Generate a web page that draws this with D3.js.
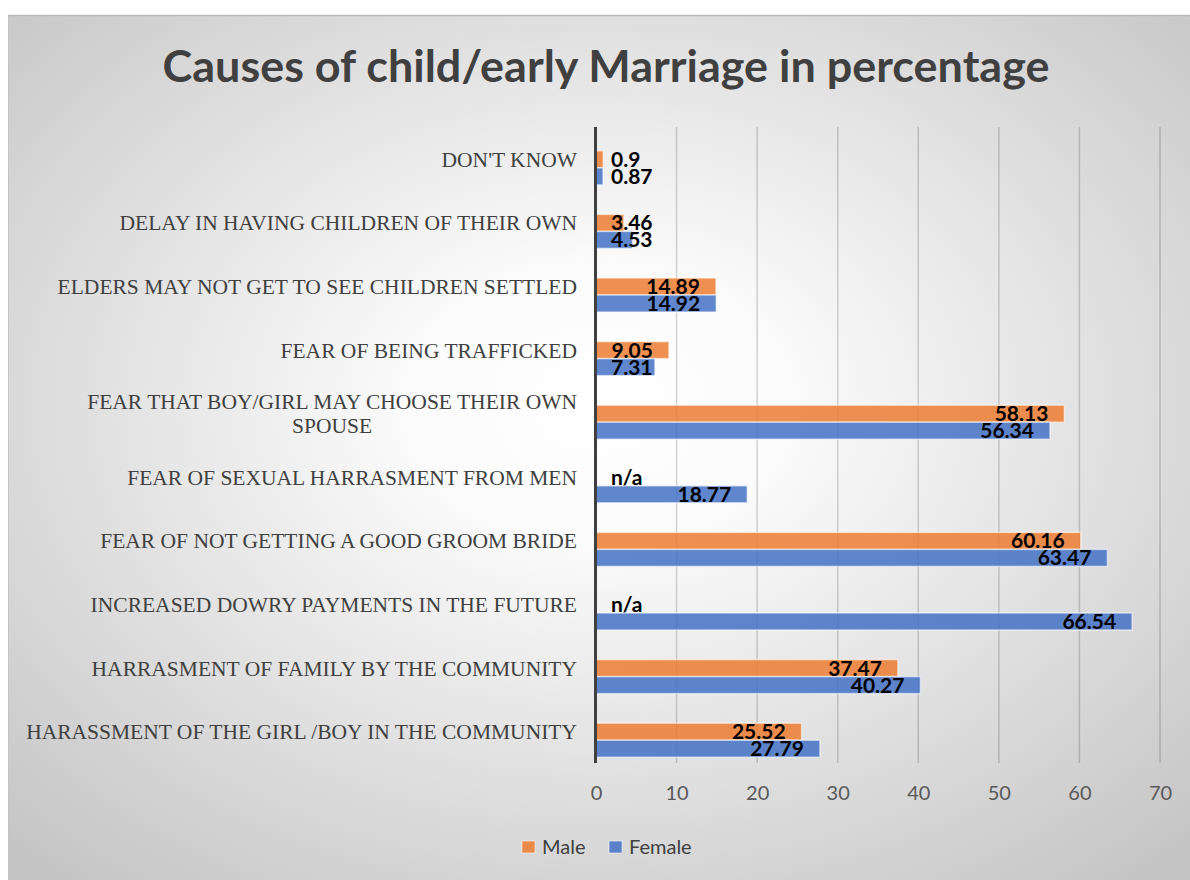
<!DOCTYPE html>
<html>
<head>
<meta charset="utf-8">
<script src="https://cdn.jsdelivr.net/npm/d3@7/dist/d3.min.js"></script>
<style>
  html, body { margin: 0; padding: 0; background: #ffffff; }
  svg { display: block; }
</style>
</head>
<body>
<svg id="chart" width="1190" height="880"></svg>
<script>
// ---- data ----
const categories = [
  "DON'T KNOW",
  "DELAY IN HAVING CHILDREN OF THEIR OWN",
  "ELDERS MAY NOT GET TO SEE CHILDREN SETTLED",
  "FEAR OF BEING TRAFFICKED",
  "FEAR THAT BOY/GIRL MAY CHOOSE THEIR OWN SPOUSE",
  "FEAR OF SEXUAL HARRASMENT FROM MEN",
  "FEAR OF NOT GETTING A GOOD GROOM BRIDE",
  "INCREASED DOWRY PAYMENTS IN THE FUTURE",
  "HARRASMENT OF FAMILY BY THE COMMUNITY",
  "HARASSMENT OF THE GIRL /BOY IN THE COMMUNITY"
];
const maleValues   = [0.9, 3.46, 14.89, 9.05, 58.13, null, 60.16, null, 37.47, 25.52];
const femaleValues = [0.87, 4.53, 14.92, 7.31, 56.34, 18.77, 63.47, 66.54, 40.27, 27.79];
const seriesNames  = ["Male", "Female"];
const seriesColors = ["#ED7D31", "#4472C4"];
const xTicks = [0, 10, 20, 30, 40, 50, 60, 70];
const titleText = "Causes of child/early Marriage in percentage";

// ---- layout ----
const svg = d3.select("#chart");
const W = 1190, H = 880;
const plot = { left: 596, right: 1160, top: 127, bottom: 763 };

// background
const defs = svg.append("defs");
const grad = defs.append("radialGradient").attr("id", "bg")
  .attr("cx", 0.5).attr("cy", 0.45).attr("r", 0.72);
grad.append("stop").attr("offset", "0%").attr("stop-color", "#ffffff");
grad.append("stop").attr("offset", "22%").attr("stop-color", "#fbfbfb");
grad.append("stop").attr("offset", "100%").attr("stop-color", "#c4c4c4");

svg.append("rect").attr("x", 8).attr("y", 15).attr("width", W - 8).attr("height", H - 15)
  .attr("fill", "url(#bg)");
svg.append("line").attr("x1", 8).attr("x2", W).attr("y1", 15.5).attr("y2", 15.5)
  .attr("stroke", "#bdbdbd").attr("stroke-width", 1.5);
svg.append("line").attr("x1", 8.5).attr("x2", 8.5).attr("y1", 15).attr("y2", H)
  .attr("stroke", "#c4c4c4").attr("stroke-width", 1);

// title
const title = svg.append("text")
  .attr("x", 606).attr("y", 82)
  .attr("text-anchor", "middle")
  .attr("font-family", "Lato, 'Open Sans', sans-serif")
  .attr("font-weight", "bold")
  .attr("font-size", 43)
  .attr("fill", "#404040")
  .text(titleText);
title.attr("textLength", 887).attr("lengthAdjust", "spacingAndGlyphs");

// scales
const x = d3.scaleLinear().domain([0, 70]).range([plot.left, plot.right]);
const yBand = d3.scaleBand().domain(categories).range([plot.top, plot.bottom]);
const yBars = d3.scaleBand().domain(categories).range([plot.top + 9, plot.bottom + 9])
  .paddingInner(0.465).paddingOuter(0.2325);
const ySeries = d3.scaleBand().domain(seriesNames).range([0, yBars.bandwidth()]);

// gridlines
svg.append("g").selectAll("line").data(xTicks.filter(d => d > 0)).join("line")
  .attr("x1", d => x(d)).attr("x2", d => x(d))
  .attr("y1", plot.top).attr("y2", plot.bottom)
  .attr("stroke", "#000").attr("stroke-opacity", 0.17).attr("stroke-width", 1.5);

// bars
const rows = categories.map((c, i) => ({ cat: c, vals: [maleValues[i], femaleValues[i]] }));
const barG = svg.append("g");
rows.forEach(r => {
  r.vals.forEach((v, si) => {
    if (v == null) return;
    barG.append("rect")
      .attr("x", x(0))
      .attr("y", yBars(r.cat) + ySeries(seriesNames[si]))
      .attr("width", x(v) - x(0))
      .attr("height", ySeries.bandwidth())
      .attr("fill", seriesColors[si]).attr("fill-opacity", 0.85)
      .attr("stroke", "#ffffff").attr("stroke-opacity", 0.55).attr("stroke-width", 1.5);
  });
});

// value labels
const labG = svg.append("g");
rows.forEach(r => {
  r.vals.forEach((v, si) => {
    const yb = yBars(r.cat) + ySeries(seriesNames[si]) + ySeries.bandwidth() - 1;
    const t = labG.append("text")
      .attr("y", yb)
      .attr("font-family", "Lato, 'Open Sans', sans-serif")
      .attr("font-weight", "bold")
      .attr("font-size", 21)
      .attr("fill", "#000")
      .text(v == null ? "n/a" : String(v));
    const w = t.node().getComputedTextLength();
    let xe = v == null ? x(0) + 15 + w : Math.max(x(v) - 16, x(0) + 15 + w);
    t.attr("x", xe).attr("text-anchor", "end");
  });
});

// y axis line
svg.append("line").attr("x1", x(0) - 0.5).attr("x2", x(0) - 0.5)
  .attr("y1", plot.top).attr("y2", plot.bottom)
  .attr("stroke", "#404040").attr("stroke-width", 3);

// category labels (wrapped)
const catG = svg.append("g");
const catFont = 21.5;
const maxW = 562, labelRight = 577, lineH = 24;
categories.forEach(c => {
  const words = c.split(" ");
  const probe = catG.append("text")
    .attr("font-family", "'Liberation Serif', 'Times New Roman', serif")
    .attr("font-size", catFont);
  const lines = [];
  let cur = [];
  words.forEach(wd => {
    const test = cur.concat([wd]).join(" ");
    probe.text(test);
    if (probe.node().getComputedTextLength() > maxW && cur.length) {
      lines.push(cur.join(" "));
      cur = [wd];
    } else cur.push(wd);
  });
  lines.push(cur.join(" "));
  probe.text(lines[0]);
  const firstW = probe.node().getComputedTextLength();
  probe.remove();
  const cy = yBand(c) + yBand.bandwidth() / 2;
  const cx = labelRight - firstW / 2;
  const t = catG.append("text")
    .attr("font-family", "'Liberation Serif', 'Times New Roman', serif")
    .attr("font-size", catFont)
    .attr("fill", "#404040")
    .attr("text-anchor", "middle");
  lines.forEach((ln, k) => {
    t.append("tspan").attr("x", cx)
      .attr("y", cy + 8 + (k - (lines.length - 1) / 2) * lineH)
      .text(ln);
  });
});

// x axis tick labels
const xAxis = d3.axisBottom(x).tickValues(xTicks).tickSize(0).tickPadding(0).tickFormat(d3.format("d"));
const xg = svg.append("g").attr("transform", `translate(0, ${786})`).call(xAxis);
xg.select(".domain").remove();
xg.selectAll("text")
  .attr("font-family", "Lato, 'Open Sans', sans-serif")
  .attr("font-size", 20)
  .attr("fill", "#595959")
  .attr("dy", "0.71em");

// legend
const leg = svg.append("g");
const legItems = [{ x: 522, name: seriesNames[0], c: seriesColors[0] },
                  { x: 609, name: seriesNames[1], c: seriesColors[1] }];
legItems.forEach(it => {
  leg.append("rect").attr("x", it.x).attr("y", 841).attr("width", 13).attr("height", 12)
    .attr("fill", it.c).attr("fill-opacity", 0.85)
    .attr("stroke", "#fff").attr("stroke-opacity", 0.55);
  leg.append("text").attr("x", it.x + 20).attr("y", 854)
    .attr("font-family", "Lato, 'Open Sans', sans-serif")
    .attr("font-size", 20).attr("fill", "#404040")
    .text(it.name);
});
</script>
</body>
</html>
